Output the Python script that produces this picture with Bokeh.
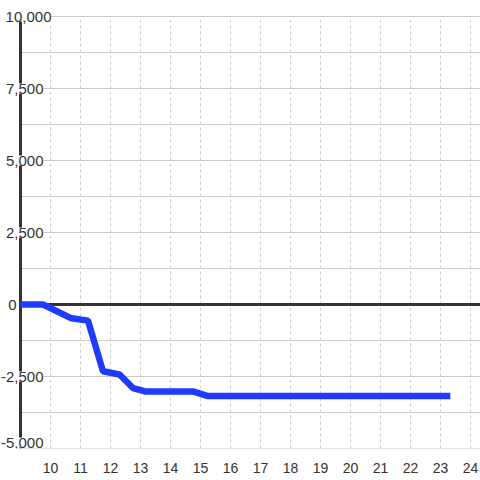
from bokeh.plotting import figure
from bokeh.models import Range1d, FixedTicker
from bokeh.core.properties import value
from bokeh.embed import file_html
from bokeh.resources import INLINE

# ---- data ----
x_vals = [9.0, 9.75, 10.7, 11.25, 11.75, 12.3, 12.75, 13.15, 14.75, 15.25, 23.33]
y_vals = [0, 0, -480, -560, -2320, -2430, -2900, -3020, -3020, -3180, -3180]
x_ticks = list(range(10, 25))
y_grid = [-5000 + 1250 * i for i in range(13)]
y_label_vals = [-5000, -2500, 0, 2500, 5000, 7500, 10000]
y_label_text = ["-5,000", "-2,500", "0", "2,500", "5,000", "7,500", "10,000"]

X_AXIS_AT = 9.0
X_END = 24.3333
Y_MIN, Y_MAX = -5000, 10000

# ---- styles (label placement, in pixels) ----
lbl_dx = [23, 23, -4, 23, 23, 23, 31]
lbl_dy = [6, 0, 0, 0, 0, 0, 0]

# plot area (frame) goes from canvas top to 32px above the bottom; 10,000 sits 16px below top
frame_h = 480 - 32
y_span_px = frame_h - 16
y_per_px = (Y_MAX - Y_MIN) / y_span_px
x_per_px = 1 / 30
y_top = Y_MAX + 16 * y_per_px

p = figure(width=480, height=480,
           x_range=Range1d(X_AXIS_AT - 20 * x_per_px, X_END), y_range=Range1d(Y_MIN, y_top),
           output_backend="svg", toolbar_location=None,
           y_axis_location=None,
           min_border_left=0, min_border_right=0,
           min_border_top=0, min_border_bottom=32)
p.outline_line_color = None
p.background_fill_color = "white"
p.border_fill_color = "white"

ax = p.xaxis[0]
ax.ticker = FixedTicker(ticks=x_ticks)
ax.axis_line_color = None
ax.major_tick_line_color = None
ax.minor_tick_line_color = None
ax.major_label_text_font = "Liberation Sans"
ax.major_label_text_font_size = "14px"
ax.major_label_text_color = "#333333"
ax.major_label_standoff = 8

p.xgrid.visible = False
p.ygrid.visible = False

# vertical dotted grid lines over the value range
p.segment(x0=x_ticks, x1=x_ticks, y0=[Y_MIN] * len(x_ticks), y1=[Y_MAX] * len(x_ticks),
          line_color="#cccccc", line_width=1, line_dash="3 3")
# horizontal grid lines, from the y axis to the right edge
p.segment(x0=[X_AXIS_AT] * len(y_grid), x1=[X_END] * len(y_grid), y0=y_grid, y1=y_grid,
          line_color="#cccccc", line_width=1)

# zero line and y axis line
p.segment(x0=[X_AXIS_AT], x1=[X_END], y0=[0], y1=[0], line_color="#333333", line_width=3)
p.segment(x0=[X_AXIS_AT], x1=[X_AXIS_AT], y0=[Y_MIN], y1=[Y_MAX], line_color="#333333", line_width=3)

p.line(x_vals, y_vals, line_width=6.5, line_color="#1f3bff")

# y-axis labels with a white box that masks the axis line behind them
lx = [X_AXIS_AT + d * x_per_px for d in lbl_dx]
ly = [v + d * y_per_px for v, d in zip(y_label_vals, lbl_dy)]
p.text(x=lx, y=ly, text=y_label_text,
       text_align="right", text_baseline="middle",
       text_font=value("Liberation Sans"), text_font_size=value("15px"),
       text_color="#333333", background_fill_color="white", background_fill_alpha=1.0)

open("out.html", "w").write(file_html(p, INLINE))
